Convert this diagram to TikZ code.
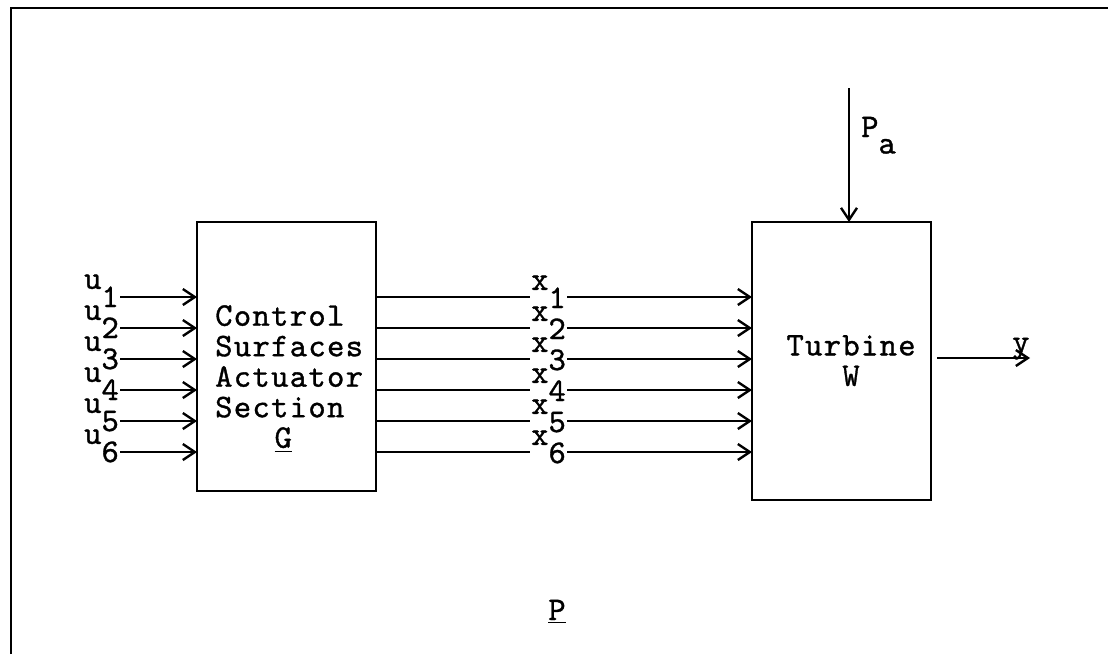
\documentclass[tikz,border=0pt]{standalone}
\usepackage{fontspec}
\setmonofont{lmmono10-regular.otf}[LetterSpace=4,FakeBold=1]
\usetikzlibrary{arrows.meta}
\newcommand{\sig}[2]{\raisebox{.55em}{#1}#2}
\begin{document}
\begin{tikzpicture}[x=.5pt,y=-.5pt,>={Straight Barb[length=6pt,width=8pt]},line width=1.2pt,
  font=\fontsize{16.5}{15.25}\selectfont\ttfamily,
  blk/.style={draw,line width=1.4pt,inner sep=0,outer sep=0},
  lbl/.style={inner sep=0,anchor=base west}]
  \useasboundingbox (0,0) rectangle (1108,654);
  % frame
  \draw (11,654) -- (11,8) -- (1108,8);
  % blocks
  \node[blk,minimum width=89.5pt,minimum height=134.5pt] (G) at (286.5,356.5) {};
  \node[blk,minimum width=89.5pt,minimum height=139pt] (W) at (841.5,361) {};
  \node[inner sep=0,align=left,anchor=north west] (Gtxt) at (214,304)
    {Control\\Surfaces\\Actuator\\Section\\\hspace*{1.8em}\underline{G}};
  \node[inner sep=0,align=center,anchor=north] (Wtxt) at (851,334) {Turbine\\W};
  % inputs u and states x
  \foreach \i in {1,...,6} {
    \coordinate (u\i) at (120,266+31*\i);
    \coordinate (x\i) at (547,266+31*\i);
    \node[lbl] (ul\i) at (83,276+31*\i) {\sig{u}{\i}};
    \node[lbl] (xl\i) at (530,277+31*\i) {\sig{x}{\i}};
    \draw[->] (ul\i.east |- u\i) -- (G.west |- u\i);
    \draw (G.east |- x\i) -- (xl\i.west |- x\i);
    \draw[->] (xl\i.east |- x\i) -- (W.west |- x\i);
  }
  % disturbance and output
  \coordinate (pa) at (849,88);
  \draw[->] (pa) -- (W.north -| pa);
  \node[lbl] (pal) at (860,137) {P\raisebox{-.5em}{a}};
  \coordinate (yo) at (1030,358);
  \draw[->,shorten <=3pt] (W.east |- yo) -- (yo);
  \node[lbl] (yl) at (1011,352) {y};
  \node[inner sep=0,anchor=base] (P) at (557,620) {\underline{P}};
\end{tikzpicture}
\end{document}
